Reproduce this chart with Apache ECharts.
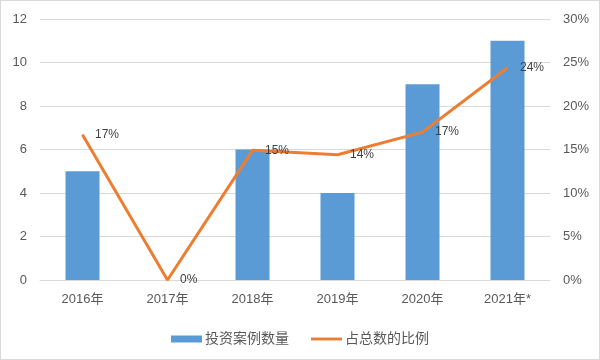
<!DOCTYPE html>
<html>
<head>
<meta charset="utf-8">
<script src="https://cdn.jsdelivr.net/npm/echarts@6/dist/echarts.min.js"></script>
<style>
html,body{margin:0;padding:0;background:#fff;}
#c{width:598px;height:358px;border:1px solid #d9d9d9;}
</style>
</head>
<body>
<div id="c"></div>
<script>
const categories = ['2016年','2017年','2018年','2019年','2020年','2021年*'];
const caseCounts = [5, 0, 6, 4, 9, 11];
const sharePct = [16.7, 0, 14.9, 14.4, 17.0, 24.4];
const leftTicks = {min: 0, max: 12, interval: 2};
const rightTicks = {min: 0, max: 30, interval: 5};

const FONT = "'Liberation Sans','Noto Sans CJK SC',sans-serif";
const chart = echarts.init(document.getElementById('c'));
chart.setOption({
  animation: false,
  textStyle: {fontFamily: FONT},
  grid: {left: 39, right: 49, top: 18, bottom: 79},
  legend: {
    left: 'center', top: 326,
    itemWidth: 31, itemHeight: 7, itemGap: 22,
    textStyle: {color: '#595959', fontSize: 14, fontFamily: FONT, padding: [0,0,0,-2]},
    data: [
      {name: '投资案例数量', icon: 'rect'},
      {name: '占总数的比例', icon: 'path://M0,0 L32,0 L32,3 L0,3 Z'}
    ]
  },
  xAxis: {
    type: 'category',
    data: categories,
    axisLine: {lineStyle: {color: '#d9d9d9', width: 1}},
    axisTick: {show: false},
    axisLabel: {color: '#595959', fontSize: 13, margin: 13}
  },
  yAxis: [
    {
      type: 'value', min: leftTicks.min, max: leftTicks.max, interval: leftTicks.interval,
      axisLine: {show: false}, axisTick: {show: false},
      splitLine: {lineStyle: {color: '#d9d9d9', width: 1}},
      axisLabel: {color: '#595959', fontSize: 13, margin: 13}
    },
    {
      type: 'value', min: rightTicks.min, max: rightTicks.max, interval: rightTicks.interval,
      axisLine: {show: false}, axisTick: {show: false},
      splitLine: {show: false},
      axisLabel: {color: '#595959', fontSize: 13, margin: 13, formatter: '{value}%'}
    }
  ],
  series: [
    {
      name: '投资案例数量', type: 'bar', data: caseCounts,
      barWidth: '40%',
      itemStyle: {color: '#5b9bd5'}
    },
    {
      name: '占总数的比例', type: 'line', yAxisIndex: 1, data: sharePct,
      symbol: 'circle', symbolSize: 1, showSymbol: true,
      lineStyle: {color: '#ed7d31', width: 3},
      itemStyle: {color: '#ed7d31'},
      label: {
        show: true, position: 'right', distance: 12,
        color: '#404040', fontSize: 12,
        formatter: p => Math.round(p.value) + '%'
      }
    }
  ]
});
</script>
</body>
</html>
